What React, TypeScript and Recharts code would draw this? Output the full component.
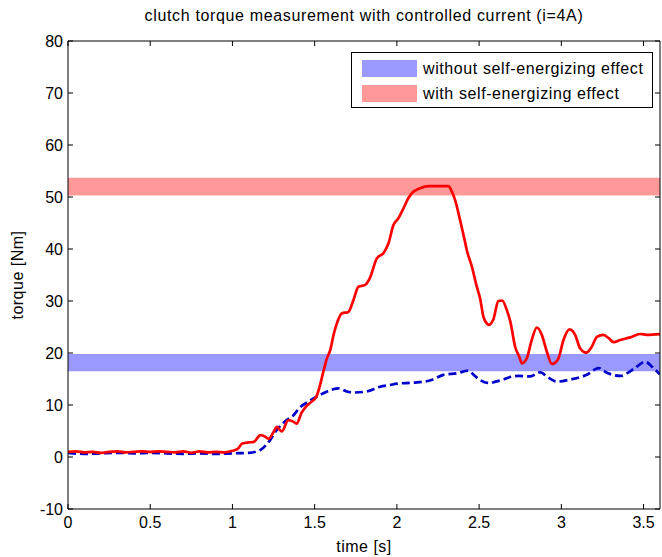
import React from 'react';
import { LineChart, Line, XAxis, YAxis, ReferenceArea, Legend, Label } from 'recharts';

const titleText = 'clutch torque measurement with controlled current (i=4A)';
const xLabel = 'time [s]';
const yLabel = 'torque [Nm]';

const xTicks = [0, 0.5, 1, 1.5, 2, 2.5, 3, 3.5];
const yTicks = [-10, 0, 10, 20, 30, 40, 50, 60, 70, 80];

const redTimes = [
  0, 0.05, 0.1, 0.15, 0.2, 0.25, 0.3, 0.35, 0.4, 0.45, 0.5, 0.55, 0.6, 0.65, 0.7, 0.75, 0.8, 0.85, 0.9, 0.95,
  1.0, 1.03, 1.06, 1.1, 1.13, 1.17, 1.2, 1.22, 1.25, 1.27, 1.3, 1.34, 1.37, 1.39, 1.42, 1.45, 1.48, 1.51, 1.53,
  1.555, 1.575, 1.595, 1.615, 1.635, 1.665, 1.705, 1.736, 1.766, 1.807, 1.837, 1.878, 1.918, 1.949, 1.979, 2.009,
  2.04, 2.07, 2.09, 2.141, 2.192, 2.25, 2.313, 2.335, 2.354, 2.384, 2.41, 2.425, 2.456, 2.486, 2.506, 2.526, 2.547,
  2.557, 2.587, 2.617, 2.64, 2.668, 2.69, 2.719, 2.745, 2.76, 2.79, 2.82, 2.851, 2.881, 2.912, 2.942, 2.965, 2.983,
  3.013, 3.05, 3.084, 3.114, 3.151, 3.185, 3.216, 3.256, 3.29, 3.317, 3.358, 3.418, 3.479, 3.52, 3.6,
];
const redTorque = [
  1.0, 1.1, 0.9, 1.0, 0.8, 1.0, 1.1, 0.9, 1.0, 1.1, 1.0, 1.1, 1.0, 0.9, 1.1, 0.8, 1.1, 0.9, 1.0, 0.9,
  1.2, 1.5, 2.6, 2.8, 2.9, 4.2, 3.9, 3.5, 4.8, 5.8, 4.9, 7.1, 6.8, 6.4, 8.5, 9.8, 10.6, 11.6, 13.5,
  16.7, 19.0, 20.6, 23.5, 25.7, 27.6, 27.9, 30.2, 32.75, 33.1, 34.5, 38.2, 39.2, 41.1, 44.6, 45.9,
  47.8, 49.8, 50.7, 51.7, 52.1, 52.1, 52.1, 51.0, 49.4, 45.6, 42.0, 39.8, 36.6, 32.75, 30.5, 27.0, 25.7,
  25.4, 26.5, 30.0, 30.1, 28.3, 26.0, 21.2, 19.2, 18.0, 19.0, 22.5, 24.9, 23.5, 20.25, 17.9, 18.2, 19.0,
  22.5, 24.55, 23.5, 20.9, 20.06, 21.2, 23.1, 23.5, 22.8, 22.1, 22.5, 23.0, 23.65, 23.5, 23.65,
];

const blueTimes = [
  0, 0.1, 0.2, 0.3, 0.4, 0.5, 0.6, 0.7, 0.8, 0.9, 1.0, 1.1, 1.17, 1.23, 1.27, 1.33, 1.37, 1.41, 1.47, 1.513,
  1.553, 1.6, 1.644, 1.695, 1.736, 1.817, 1.898, 1.959, 2.0, 2.1, 2.2, 2.283, 2.364, 2.435, 2.47, 2.506, 2.567,
  2.6, 2.648, 2.68, 2.739, 2.81, 2.871, 2.92, 2.973, 3.053, 3.155, 3.226, 3.277, 3.358, 3.439, 3.51, 3.56, 3.6,
];
const blueTorque = [
  0.8, 0.6, 0.7, 0.8, 0.7, 0.8, 0.7, 0.6, 0.7, 0.6, 0.7, 0.8, 1.35, 3.3, 5.2, 7.1, 8.0, 9.5, 10.8, 11.6,
  12.25, 12.9, 13.2, 12.6, 12.4, 12.6, 13.5, 13.85, 14.1, 14.3, 14.7, 15.8, 16.1, 16.6, 15.7, 14.8, 14.2,
  14.5, 14.9, 15.3, 15.6, 15.5, 16.3, 15.3, 14.5, 14.9, 15.8, 17.1, 16.2, 15.6, 16.9, 18.3, 17.1, 15.9,
];

const blueBand = [16.5, 19.8];
const redBand = [50.3, 53.7];

const legendLabels = ['without self-energizing effect', 'with self-energizing effect'];
const legendColors = ['#9999ff', '#ff9999'];

const redData = redTimes.map((t, i) => ({ t, v: redTorque[i] }));
const blueData = blueTimes.map((t, i) => ({ t, v: blueTorque[i] }));

const FONT = '"Liberation Sans", Arial, Helvetica, sans-serif';
const textStyle = { fill: '#000', fontSize: 16, fontFamily: FONT, letterSpacing: 0.5 };
const TICK_LEN = 5;

const BottomTick = (props: any) => {
  const { x, y, payload } = props;
  return (
    <g>
      <line x1={x} y1={y} x2={x} y2={y - TICK_LEN} stroke="#000" strokeWidth={1} />
      <text x={x} y={y + 19} textAnchor="middle" fill="#000" fontSize={16} fontFamily={FONT}>
        {payload.value}
      </text>
    </g>
  );
};
const TopTick = (props: any) => {
  const { x, y } = props;
  return <line x1={x} y1={y} x2={x} y2={y + TICK_LEN} stroke="#000" strokeWidth={1} />;
};
const LeftTick = (props: any) => {
  const { x, y, payload } = props;
  return (
    <g>
      <line x1={x} y1={y} x2={x + TICK_LEN} y2={y} stroke="#000" strokeWidth={1} />
      <text x={x - 5} y={y + 6} textAnchor="end" fill="#000" fontSize={16} fontFamily={FONT}>
        {payload.value}
      </text>
    </g>
  );
};
const RightTick = (props: any) => {
  const { x, y } = props;
  return <line x1={x} y1={y} x2={x - TICK_LEN} y2={y} stroke="#000" strokeWidth={1} />;
};

const renderLegend = () => (
  <div
    style={{
      width: 300,
      height: 54,
      border: '1px solid #000',
      background: '#fff',
      fontFamily: FONT,
      fontSize: 16,
      letterSpacing: 0.6,
      color: '#000',
      boxSizing: 'content-box',
    }}
  >
    {legendLabels.map((lab, i) => (
      <div key={lab} style={{ display: 'flex', alignItems: 'center', height: 25, marginTop: i === 0 ? 3 : 0 }}>
        <div style={{ width: 55, height: 17, marginLeft: 10, background: legendColors[i] }} />
        <span style={{ marginLeft: 6 }}>{lab}</span>
      </div>
    ))}
  </div>
);

export default function App() {
  return (
    <div style={{ position: 'absolute', left: 0, top: 0 }}>
      <LineChart width={662} height={557} margin={{ top: 0, right: 0, bottom: 0, left: 0 }}>
        <ReferenceArea y1={redBand[0]} y2={redBand[1]} fill="#ff9999" fillOpacity={1} stroke="none" />
        <ReferenceArea y1={blueBand[0]} y2={blueBand[1]} fill="#9999ff" fillOpacity={1} stroke="none" />
        <XAxis
          dataKey="t"
          type="number"
          domain={[0, 3.6]}
          ticks={xTicks}
          allowDataOverflow
          height={48}
          tickSize={0}
          tickMargin={0}
          axisLine={{ stroke: '#000' }}
          tickLine={false}
          tick={<BottomTick />}
        >
          <Label value={xLabel} position="insideBottom" offset={5} style={textStyle} />
        </XAxis>
        <XAxis
          xAxisId="top"
          dataKey="t"
          type="number"
          orientation="top"
          domain={[0, 3.6]}
          ticks={xTicks}
          allowDataOverflow
          height={41}
          tickSize={0}
          tickMargin={0}
          axisLine={{ stroke: '#000' }}
          tickLine={false}
          tick={<TopTick />}
        >
          <Label value={titleText} position="insideTop" offset={10} style={{ ...textStyle, letterSpacing: 0.65 }} />
        </XAxis>
        <YAxis
          type="number"
          domain={[-10, 80]}
          ticks={yTicks}
          allowDataOverflow
          width={68}
          tickSize={0}
          tickMargin={0}
          axisLine={{ stroke: '#000' }}
          tickLine={false}
          tick={<LeftTick />}
        >
          <Label
            value={yLabel}
            angle={-90}
            position="insideLeft"
            offset={17}
            style={{ ...textStyle, textAnchor: 'middle' }}
          />
        </YAxis>
        <YAxis
          yAxisId="right"
          orientation="right"
          type="number"
          domain={[-10, 80]}
          ticks={yTicks}
          allowDataOverflow
          width={2}
          tickSize={0}
          tickMargin={0}
          axisLine={{ stroke: '#000' }}
          tickLine={false}
          tick={<RightTick />}
        />
        <Line
          data={blueData}
          dataKey="v"
          type="monotone"
          stroke="#0000cc"
          strokeWidth={2.7}
          strokeDasharray="8 4"
          dot={false}
          isAnimationActive={false}
        />
        <Line
          data={redData}
          dataKey="v"
          type="monotone"
          stroke="#ff0000"
          strokeWidth={2.7}
          dot={false}
          isAnimationActive={false}
        />
        <Legend
          layout="vertical"
          verticalAlign="middle"
          align="center"
          content={renderLegend}
          wrapperStyle={{ position: 'absolute', left: 351, top: 52, width: 302, height: 56 }}
        />
      </LineChart>
    </div>
  );
}
